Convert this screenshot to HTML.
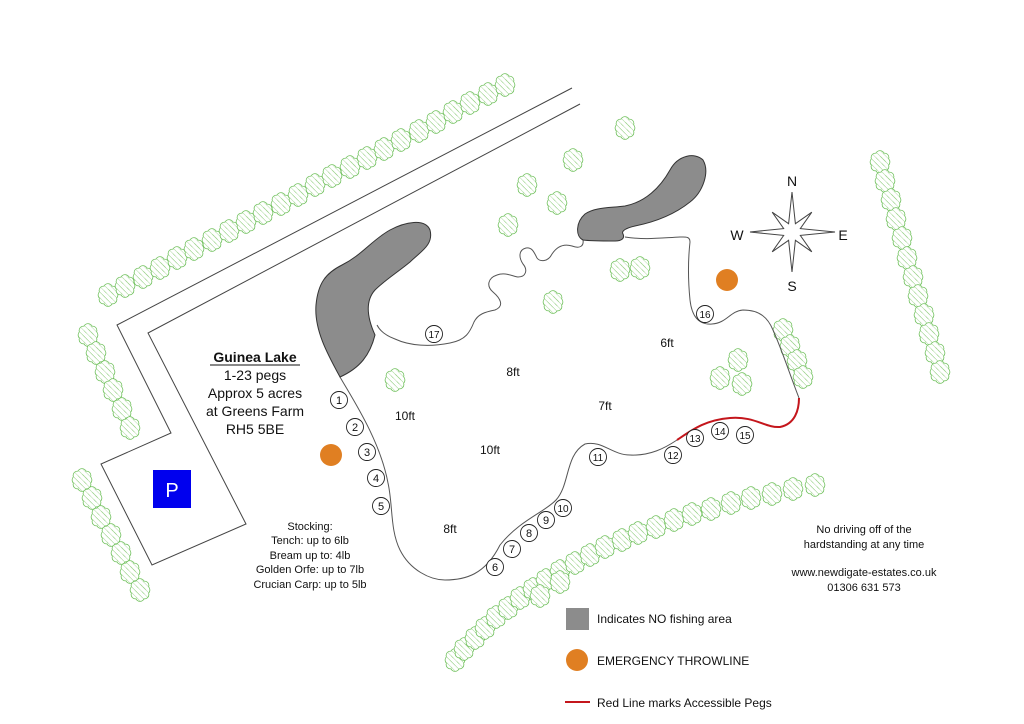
<!DOCTYPE html>
<html><head><meta charset="utf-8"><style>
html,body{margin:0;padding:0;background:#fff;}
svg{display:block;font-family:"Liberation Sans",Arial,sans-serif;}
</style></head><body>
<svg width="1024" height="724" viewBox="0 0 1024 724" xmlns="http://www.w3.org/2000/svg">
<defs>
<pattern id="h" patternUnits="userSpaceOnUse" width="4" height="4" patternTransform="rotate(-45)">
<line x1="0" y1="0" x2="0" y2="4" stroke="#8ccc7a" stroke-width="0.7"/>
</pattern>
<g id="t">
<g stroke="#6cbf58" stroke-width="1.6" fill="none">
<circle cx="0" cy="-7" r="4"/><circle cx="4.5" cy="-4.5" r="4"/><circle cx="5.5" cy="0" r="4"/><circle cx="4.5" cy="4.5" r="4"/>
<circle cx="0" cy="7" r="4"/><circle cx="-4.5" cy="4.5" r="4"/><circle cx="-5.5" cy="0" r="4"/><circle cx="-4.5" cy="-4.5" r="4"/>
</g>
<g fill="#fff">
<circle cx="0" cy="-7" r="4"/><circle cx="4.5" cy="-4.5" r="4"/><circle cx="5.5" cy="0" r="4"/><circle cx="4.5" cy="4.5" r="4"/>
<circle cx="0" cy="7" r="4"/><circle cx="-4.5" cy="4.5" r="4"/><circle cx="-5.5" cy="0" r="4"/><circle cx="-4.5" cy="-4.5" r="4"/>
<circle cx="0" cy="0" r="6"/>
</g>
<g fill="url(#h)">
<circle cx="0" cy="-7" r="4"/><circle cx="4.5" cy="-4.5" r="4"/><circle cx="5.5" cy="0" r="4"/><circle cx="4.5" cy="4.5" r="4"/>
<circle cx="0" cy="7" r="4"/><circle cx="-4.5" cy="4.5" r="4"/><circle cx="-5.5" cy="0" r="4"/><circle cx="-4.5" cy="-4.5" r="4"/>
<circle cx="0" cy="0" r="6"/>
</g>
</g>
</defs>

<!-- road -->
<polyline points="572,88 117,325 171,433 101,464 152,565 246,524 148,333 580,104" fill="none" stroke="#444" stroke-width="1"/>

<!-- trees -->
<g>
<use href="#t" x="108" y="295"/><use href="#t" x="125" y="286"/><use href="#t" x="143" y="277"/><use href="#t" x="160" y="268"/>
<use href="#t" x="177" y="258"/><use href="#t" x="194" y="249"/><use href="#t" x="212" y="240"/><use href="#t" x="229" y="231"/>
<use href="#t" x="246" y="222"/><use href="#t" x="263" y="213"/><use href="#t" x="281" y="204"/><use href="#t" x="298" y="195"/>
<use href="#t" x="315" y="185"/><use href="#t" x="332" y="176"/><use href="#t" x="350" y="167"/><use href="#t" x="367" y="158"/>
<use href="#t" x="384" y="149"/><use href="#t" x="401" y="140"/><use href="#t" x="419" y="131"/><use href="#t" x="436" y="122"/>
<use href="#t" x="453" y="112"/><use href="#t" x="470" y="103"/><use href="#t" x="488" y="94"/><use href="#t" x="505" y="85"/>
<use href="#t" x="88" y="335"/><use href="#t" x="96" y="353"/><use href="#t" x="105" y="372"/><use href="#t" x="113" y="390"/><use href="#t" x="122" y="409"/><use href="#t" x="130" y="428"/>
<use href="#t" x="82" y="480"/><use href="#t" x="92" y="498"/><use href="#t" x="101" y="517"/><use href="#t" x="111" y="535"/><use href="#t" x="121" y="553"/><use href="#t" x="130" y="572"/><use href="#t" x="140" y="590"/>
<use href="#t" x="880" y="162"/><use href="#t" x="885" y="181"/><use href="#t" x="891" y="200"/><use href="#t" x="896" y="219"/><use href="#t" x="902" y="238"/><use href="#t" x="907" y="258"/>
<use href="#t" x="913" y="277"/><use href="#t" x="918" y="296"/><use href="#t" x="924" y="315"/><use href="#t" x="929" y="334"/><use href="#t" x="935" y="353"/><use href="#t" x="940" y="372"/>
<use href="#t" x="455" y="660"/><use href="#t" x="464" y="649"/><use href="#t" x="475" y="638"/><use href="#t" x="485" y="628"/><use href="#t" x="496" y="617"/><use href="#t" x="508" y="608"/>
<use href="#t" x="520" y="598"/><use href="#t" x="533" y="589"/><use href="#t" x="546" y="580"/><use href="#t" x="560" y="571"/><use href="#t" x="575" y="563"/><use href="#t" x="590" y="555"/>
<use href="#t" x="605" y="547"/><use href="#t" x="622" y="540"/><use href="#t" x="638" y="533"/><use href="#t" x="656" y="527"/><use href="#t" x="674" y="520"/><use href="#t" x="692" y="514"/>
<use href="#t" x="711" y="509"/><use href="#t" x="731" y="503"/><use href="#t" x="751" y="498"/><use href="#t" x="772" y="494"/><use href="#t" x="793" y="489"/><use href="#t" x="815" y="485"/>
<use href="#t" x="540" y="596"/><use href="#t" x="560" y="582"/>
<use href="#t" x="625" y="128"/><use href="#t" x="573" y="160"/><use href="#t" x="527" y="185"/><use href="#t" x="557" y="203"/><use href="#t" x="508" y="225"/>
<use href="#t" x="620" y="270"/><use href="#t" x="640" y="268"/><use href="#t" x="553" y="302"/><use href="#t" x="395" y="380"/>
<use href="#t" x="720" y="378"/><use href="#t" x="738" y="360"/><use href="#t" x="742" y="384"/>
<use href="#t" x="783" y="330"/><use href="#t" x="790" y="346"/><use href="#t" x="797" y="361"/><use href="#t" x="803" y="377"/>
</g>

<!-- lake outline -->
<path d="M340,377 C352,398 380,440 388,483 C393,505 390,530 400,550 C410,570 430,580 445,580 C465,580 485,575 500,545 C520,520 545,512 556,500 C570,485 565,455 585,444 C602,440 612,455 630,455 C650,456 665,448 677,440"
 fill="none" stroke="#555" stroke-width="1"/>
<path d="M677,440 C692,430 705,420 730,418 C755,416 765,428 780,427 C795,424 799,410 799,398" fill="none" stroke="#c4161c" stroke-width="2"/>
<path d="M799,398 C790,375 782,350 773,330 C768,318 760,310 743,310 C730,311 727,323 712,324 C700,325 692,318 690,300 C688,280 688,260 690,242 C690,236 685,237 680,237 C660,238 645,240 625,237"
 fill="none" stroke="#555" stroke-width="1"/>
<path d="M583,240 C584,246 580,249 572,246 C562,243 556,248 552,254 C548,262 540,262 537,258 C534,252 532,247 526,248 C518,250 519,258 523,264 C528,270 526,277 518,277 C512,276 505,272 497,275 C488,278 486,286 493,292 C500,298 505,306 495,310 C485,312 478,314 474,322 C470,332 466,340 450,343 C430,347 410,346 395,339 C387,336 380,331 377,325"
 fill="none" stroke="#555" stroke-width="1"/>

<!-- blobs -->
<path d="M340,377 C328,355 314,330 316,305 C318,283 326,273 342,265 C362,255 372,240 390,230 C405,222 425,218 430,230 C434,245 420,252 410,262 C398,272 385,280 375,290 C366,300 366,315 375,335 C370,355 360,368 340,377 Z" fill="#8c8c8c" stroke="#333" stroke-width="1"/>
<path d="M583,240 C575,236 576,222 585,214 C595,207 610,208 625,206 C645,202 660,188 670,170 C678,155 695,152 703,160 C710,172 703,192 690,202 C675,214 655,222 635,226 C626,228 621,231 623,234 C625,238 622,241 615,241 C600,241 590,241 583,240 Z" fill="#8c8c8c" stroke="#333" stroke-width="1"/>

<circle cx="727" cy="280" r="11" fill="#e07f22"/>
<circle cx="331" cy="455" r="11" fill="#e07f22"/>

<g fill="#fff" stroke="#222" stroke-width="0.9">
<circle cx="339" cy="400" r="8.5"/><circle cx="355" cy="427" r="8.5"/><circle cx="367" cy="452" r="8.5"/><circle cx="376" cy="478" r="8.5"/><circle cx="381" cy="506" r="8.5"/>
<circle cx="495" cy="567" r="8.5"/><circle cx="512" cy="549" r="8.5"/><circle cx="529" cy="533" r="8.5"/><circle cx="546" cy="520" r="8.5"/><circle cx="563" cy="508" r="8.5"/>
<circle cx="598" cy="457" r="8.5"/><circle cx="673" cy="455" r="8.5"/><circle cx="695" cy="438" r="8.5"/><circle cx="720" cy="431" r="8.5"/><circle cx="745" cy="435" r="8.5"/>
<circle cx="705" cy="314" r="8.5"/><circle cx="434" cy="334" r="8.5"/>
</g>
<g font-size="11" text-anchor="middle" fill="#111">
<text x="339" y="404">1</text><text x="355" y="431">2</text><text x="367" y="456">3</text><text x="376" y="482">4</text><text x="381" y="510">5</text>
<text x="495" y="571">6</text><text x="512" y="553">7</text><text x="529" y="537">8</text><text x="546" y="524">9</text><text x="563" y="512" font-size="10">10</text>
<text x="598" y="461" font-size="10">11</text><text x="673" y="459" font-size="10">12</text><text x="695" y="442" font-size="10">13</text><text x="720" y="435" font-size="10">14</text><text x="745" y="439" font-size="10">15</text>
<text x="705" y="318" font-size="10">16</text><text x="434" y="338" font-size="10">17</text>
</g>

<g font-size="12" text-anchor="middle" fill="#111">
<text x="513" y="376">8ft</text><text x="667" y="347">6ft</text><text x="605" y="410">7ft</text>
<text x="405" y="420">10ft</text><text x="490" y="454">10ft</text><text x="450" y="533">8ft</text>
</g>

<!-- compass -->
<polygon points="792,192 795.4,223.7 811.8,212.2 800.3,228.6 835,232 800.3,235.4 811.8,251.8 795.4,240.3 792,272 788.6,240.3 772.2,251.8 783.7,235.4 750,232 783.7,228.6 772.2,212.2 788.6,223.7" fill="#fff" stroke="#444" stroke-width="1"/>
<g font-size="14" text-anchor="middle" fill="#111">
<text x="792" y="186">N</text><text x="792" y="291">S</text><text x="737" y="240">W</text><text x="843" y="240">E</text>
</g>

<rect x="153" y="470" width="38" height="38" fill="#0000ee"/>
<text x="172" y="497" font-size="20" fill="#fff" text-anchor="middle">P</text>

<g font-size="14" text-anchor="middle" fill="#111">
<text x="255" y="362" font-weight="bold">Guinea Lake</text>
<line x1="210" y1="365" x2="300" y2="365" stroke="#111" stroke-width="1"/>
<text x="255" y="380">1-23 pegs</text>
<text x="255" y="398">Approx 5 acres</text>
<text x="255" y="416">at Greens Farm</text>
<text x="255" y="434">RH5 5BE</text>
</g>
<g font-size="11" text-anchor="middle" fill="#111">
<text x="310" y="530">Stocking:</text>
<text x="310" y="544">Tench: up to 6lb</text>
<text x="310" y="559">Bream up to: 4lb</text>
<text x="310" y="573">Golden Orfe: up to 7lb</text>
<text x="310" y="588">Crucian Carp: up to 5lb</text>
</g>
<g font-size="11" text-anchor="middle" fill="#111">
<text x="864" y="533">No driving off of the</text>
<text x="864" y="548">hardstanding at any time</text>
<text x="864" y="576">www.newdigate-estates.co.uk</text>
<text x="864" y="591">01306 631 573</text>
</g>

<rect x="566" y="608" width="23" height="22" fill="#8c8c8c"/>
<text x="597" y="623" font-size="12" fill="#111">Indicates NO fishing area</text>
<circle cx="577" cy="660" r="11" fill="#e07f22"/>
<text x="597" y="665" font-size="12" fill="#111">EMERGENCY THROWLINE</text>
<line x1="565" y1="702" x2="590" y2="702" stroke="#c4161c" stroke-width="2"/>
<text x="597" y="707" font-size="12" fill="#111">Red Line marks Accessible Pegs</text>
</svg>
</body></html>
